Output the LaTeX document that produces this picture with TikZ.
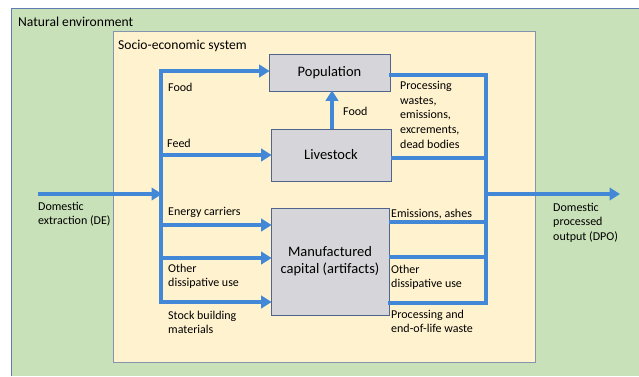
\documentclass[tikz,border=0pt]{standalone}
\usepackage{fontspec}
\setmainfont{Carlito}
\usetikzlibrary{arrows.meta}
\definecolor{envgreen}{RGB}{200,225,184}
\definecolor{secream}{RGB}{255,242,206}
\definecolor{boxgrey}{RGB}{214,214,218}
\definecolor{boxedge}{RGB}{80,100,140}
\definecolor{flowblue}{RGB}{66,136,214}
\definecolor{frameblue}{RGB}{95,125,180}
\tikzset{
  stockbox/.style={draw=boxedge, line width=0.8pt, fill=boxgrey, inner sep=0pt,
    font=\fontsize{14.5}{17}\selectfont, align=center},
  lbl/.style={inner sep=0pt, anchor=base west, align=left,
    font=\fontsize{12}{14.6}\selectfont},
  title/.style={inner sep=0pt, anchor=base west, font=\fontsize{13.6}{16}\selectfont},
  flow/.style={draw=flowblue, line width=3.6pt},
  flowarrow/.style={flow, -{Triangle[width=12.5pt,length=10.5pt]}, shorten >=-1pt},
}
\begin{document}
\begin{tikzpicture}[x=1pt,y=-1pt]
\useasboundingbox (0,0) rectangle (639,376);
% natural environment
\fill[envgreen] (11,8) rectangle (639,376);
\draw[frameblue, line width=0.8pt] (11,376) -- (11,8) -- (639,8);
\node[title] (env) at (18,26) {Natural environment};
% socio-economic system
\draw[boxedge!70, line width=0.6pt, fill=secream] (113,31) rectangle (535,362);
\node[title] (ses) at (118,49) {Socio-economic system};
% stock boxes
\node[stockbox, minimum width=121pt, minimum height=37pt] (pop) at (329.5,72.5) {Population};
\node[stockbox, minimum width=120pt, minimum height=52pt] (live) at (331,155) {Livestock};
\node[stockbox, minimum width=118pt, minimum height=107pt] (man) at (330,261.5) {Manufactured\\capital (artifacts)};
% coordinates of left bus
\coordinate (de) at (38,194);
\coordinate (lbtop) at (161,71);
\coordinate (lbin) at (161,194);
\coordinate (lbfeed) at (161,155);
\coordinate (lben) at (161,225);
\coordinate (lboth) at (161,258);
\coordinate (lbbot) at (161,302);
% right bus
\coordinate (rbtop) at (486,75);
\coordinate (rblive) at (486,158);
\coordinate (rbem) at (486,222);
\coordinate (rboth) at (486,257);
\coordinate (rbbot) at (486,303);
\coordinate (rbout) at (486,194);
\coordinate (dpo) at (619,194);
% left flows
\draw[flow, line cap=rect] (lbtop) -- (lbbot);
\draw[flowarrow] (de) -- (lbin);
\draw[flowarrow] (lbtop) -- (pop.west |- lbtop);
\draw[flowarrow] (lbfeed) -- (live.west |- lbfeed);
\draw[flowarrow] (lben) -- (man.west |- lben);
\draw[flowarrow] (lboth) -- (man.west |- lboth);
\draw[flowarrow] (lbbot) -- (man.west |- lbbot);
% food up
\draw[flowarrow] (live.north -| 332,0) -- (pop.south -| 332,0);
% right flows
\draw[flow, line cap=rect] (pop.east |- rbtop) -- (rbtop) -- (rbbot) -- (man.east |- rbbot);
\draw[flow] (live.east |- rblive) -- (rblive);
\draw[flow] (man.east |- rbem) -- (rbem);
\draw[flow] (man.east |- rboth) -- (rboth);
\draw[flowarrow] (rbout) -- (dpo);
% labels (multi-line nodes: base = baseline of last line)
\node[lbl] (lfood) at (168,91) {Food};
\node[lbl] (lfeed) at (167,147) {Feed};
\node[lbl] (lenergy) at (168,215) {Energy carriers};
\node[lbl] (lother) at (168,286.6) {Other\\dissipative use};
\node[lbl] (lstock) at (168,333.6) {Stock building\\materials};
\node[lbl] (lde) at (38,224.6) {Domestic\\extraction (DE)};
\node[lbl] (lfood2) at (343,115) {Food};
\node[lbl] (lwaste) at (400,148) {Processing\\wastes,\\emissions,\\excrements,\\dead bodies};
\node[lbl] (lemis) at (391,217) {Emissions, ashes};
\node[lbl] (lother2) at (391,287.6) {Other\\dissipative use};
\node[lbl] (lproc) at (391,332.6) {Processing and\\end-of-life waste};
\node[lbl] (ldpo) at (553,240.2) {Domestic\\processed\\output (DPO)};
\end{tikzpicture}
\end{document}
